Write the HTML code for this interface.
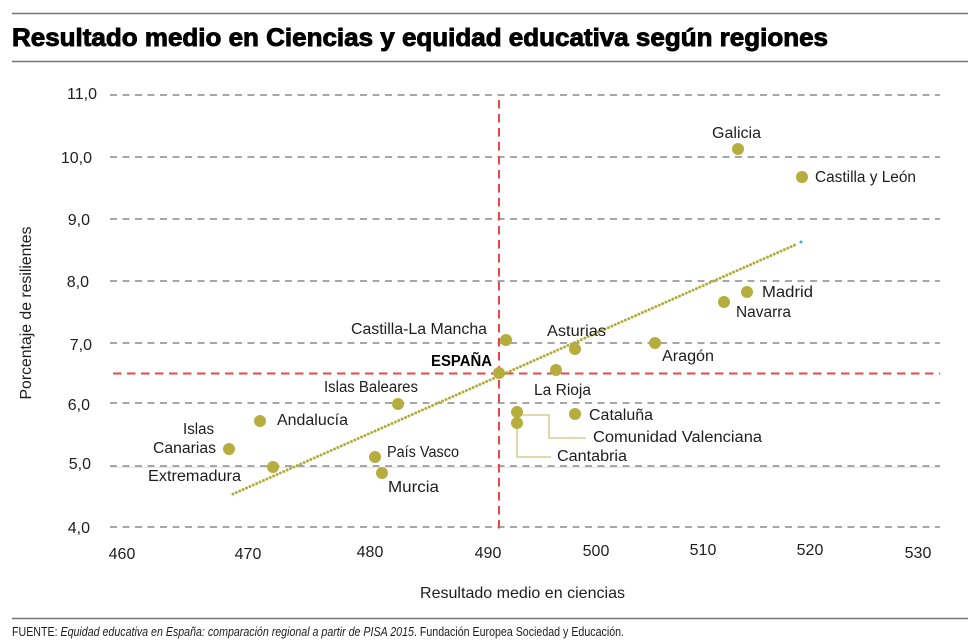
<!DOCTYPE html>
<html>
<head>
<meta charset="utf-8">
<style>
  html, body { margin: 0; padding: 0; background: #ffffff; }
  body { width: 980px; height: 644px; overflow: hidden; }
  svg { display: block; }
  text { font-family: "Liberation Sans", "DejaVu Sans", sans-serif; fill: #1e1e1e; }
</style>
</head>
<body>
<svg width="980" height="644" viewBox="0 0 980 644" xmlns="http://www.w3.org/2000/svg">
  <rect width="980" height="644" fill="#ffffff"/>

  <!-- header rules -->
  <line x1="12" y1="13.5" x2="968" y2="13.5" stroke="#777" stroke-width="1.5"/>
  <line x1="12" y1="61.5" x2="968" y2="61.5" stroke="#777" stroke-width="1.5"/>
  <text x="12" y="46" font-size="25" font-weight="bold" textLength="816" lengthAdjust="spacingAndGlyphs" stroke="#000" stroke-width="0.9" style="fill:#000">Resultado medio en Ciencias y equidad educativa según regiones</text>

  <!-- grid lines -->
  <g stroke="#8a8a8a" stroke-width="1.5" stroke-dasharray="7 5.5">
    <line x1="110" y1="95" x2="940" y2="95"/>
    <line x1="110" y1="157" x2="940" y2="157"/>
    <line x1="110" y1="219" x2="940" y2="219"/>
    <line x1="110" y1="281" x2="940" y2="281"/>
    <line x1="110" y1="343" x2="940" y2="343"/>
    <line x1="110" y1="403" x2="940" y2="403"/>
    <line x1="110" y1="466" x2="940" y2="466"/>
    <line x1="110" y1="527" x2="940" y2="527"/>
  </g>
  <line x1="110" y1="467.5" x2="940" y2="467.5" stroke="#ebe8c8" stroke-width="1"/>

  <!-- red reference lines -->
  <g stroke="#e8474b" stroke-width="2" stroke-dasharray="8.5 5.5">
    <line x1="499" y1="100" x2="499" y2="530"/>
    <line x1="113" y1="373.5" x2="940" y2="373.5"/>
  </g>

  <!-- y tick labels -->
  <g font-size="16" text-anchor="end">
    <text x="97" y="99">11,0</text>
    <text x="92" y="163">10,0</text>
    <text x="90" y="225">9,0</text>
    <text x="89" y="287">8,0</text>
    <text x="92" y="350">7,0</text>
    <text x="90" y="410">6,0</text>
    <text x="91" y="469">5,0</text>
    <text x="90" y="533">4,0</text>
  </g>

  <!-- x tick labels -->
  <g font-size="16" text-anchor="middle">
    <text x="122" y="559">460</text>
    <text x="248" y="559">470</text>
    <text x="370" y="557">480</text>
    <text x="488" y="558">490</text>
    <text x="596" y="556">500</text>
    <text x="703" y="555">510</text>
    <text x="810" y="555">520</text>
    <text x="918" y="558">530</text>
  </g>

  <!-- axis titles -->
  <text x="420" y="598" font-size="16" textLength="205" lengthAdjust="spacingAndGlyphs">Resultado medio en ciencias</text>
  <text transform="translate(31,313) rotate(-90)" font-size="16" text-anchor="middle" textLength="173" lengthAdjust="spacingAndGlyphs">Porcentaje de resilientes</text>

  <!-- trend line -->
  <line x1="233" y1="494" x2="797" y2="244" stroke="#b3ad3c" stroke-width="3" stroke-linecap="round" stroke-dasharray="0 3.7"/>
  <circle cx="801" cy="242" r="1.5" fill="#4aaed0"/>

  <!-- connector lines -->
  <g fill="none" stroke="#c9c47e" stroke-width="1.3">
    <polyline points="517,415 549,415 549,438 586,438"/>
    <polyline points="517,423 517,457 551,457"/>
  </g>

  <!-- data points -->
  <g fill="#b5ae3e">
    <circle cx="738" cy="149" r="6"/>
    <circle cx="802" cy="177" r="6"/>
    <circle cx="747" cy="292" r="6"/>
    <circle cx="724" cy="302" r="6"/>
    <circle cx="655" cy="343" r="6"/>
    <circle cx="506" cy="340" r="6"/>
    <circle cx="575" cy="349" r="6"/>
    <circle cx="499" cy="373" r="6"/>
    <circle cx="556" cy="370" r="6"/>
    <circle cx="398" cy="404" r="6"/>
    <circle cx="575" cy="414" r="6"/>
    <circle cx="517" cy="412" r="6"/>
    <circle cx="517" cy="423" r="6"/>
    <circle cx="260" cy="421" r="6"/>
    <circle cx="229" cy="449" r="6"/>
    <circle cx="273" cy="467" r="6"/>
    <circle cx="375" cy="457" r="6"/>
    <circle cx="382" cy="473" r="6"/>
  </g>

  <!-- point labels -->
  <g font-size="15.5">
    <text x="712" y="138" textLength="49" lengthAdjust="spacingAndGlyphs">Galicia</text>
    <text x="815" y="182" textLength="101" lengthAdjust="spacingAndGlyphs">Castilla y León</text>
    <text x="762" y="297" textLength="51" lengthAdjust="spacingAndGlyphs">Madrid</text>
    <text x="736" y="317" textLength="55" lengthAdjust="spacingAndGlyphs">Navarra</text>
    <text x="662" y="361" textLength="52" lengthAdjust="spacingAndGlyphs">Aragón</text>
    <text x="547" y="336" textLength="59" lengthAdjust="spacingAndGlyphs">Asturias</text>
    <text x="351" y="334" textLength="136" lengthAdjust="spacingAndGlyphs">Castilla-La Mancha</text>
    <text x="431" y="366" font-weight="bold" textLength="61" lengthAdjust="spacingAndGlyphs" style="fill:#000">ESPAÑA</text>
    <text x="534" y="395" textLength="57" lengthAdjust="spacingAndGlyphs">La Rioja</text>
    <text x="324" y="392" textLength="94" lengthAdjust="spacingAndGlyphs">Islas Baleares</text>
    <text x="589" y="420" textLength="64" lengthAdjust="spacingAndGlyphs">Cataluña</text>
    <text x="593" y="442" textLength="169" lengthAdjust="spacingAndGlyphs">Comunidad Valenciana</text>
    <text x="557" y="461" textLength="70" lengthAdjust="spacingAndGlyphs">Cantabria</text>
    <text x="277" y="425" textLength="71" lengthAdjust="spacingAndGlyphs">Andalucía</text>
    <text x="183" y="434" textLength="31" lengthAdjust="spacingAndGlyphs">Islas</text>
    <text x="153" y="453" textLength="63" lengthAdjust="spacingAndGlyphs">Canarias</text>
    <text x="148" y="481" textLength="93" lengthAdjust="spacingAndGlyphs">Extremadura</text>
    <text x="387" y="457" textLength="72" lengthAdjust="spacingAndGlyphs">País Vasco</text>
    <text x="388" y="492" textLength="51" lengthAdjust="spacingAndGlyphs">Murcia</text>
  </g>

  <!-- footer -->
  <line x1="12" y1="618.5" x2="968" y2="618.5" stroke="#777" stroke-width="1.5"/>
  <text x="12" y="636" font-size="12.5" textLength="612" lengthAdjust="spacingAndGlyphs">FUENTE: <tspan font-style="italic">Equidad educativa en España: comparación regional a partir de PISA 2015</tspan>. Fundación Europea Sociedad y Educación.</text>
</svg>
</body>
</html>
